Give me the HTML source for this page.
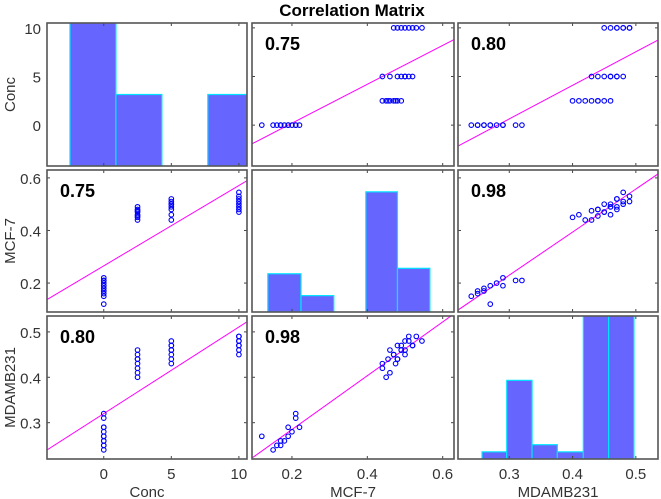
<!DOCTYPE html>
<html><head><meta charset="utf-8"><style>
body{margin:0;background:#fff;}
svg{display:block;font-family:"Liberation Sans",sans-serif;}
</style></head><body>
<svg id="chart" width="661" height="499" viewBox="0 0 661 499" xmlns="http://www.w3.org/2000/svg">
<text x="352" y="16" text-anchor="middle" font-size="17" font-weight="bold" fill="#000">Correlation Matrix</text>
</svg>
<script>
const varNames = ["Conc", "MCF-7", "MDAMB231"];
const concVals = [0,0,0,0,0,0,0,0,0,0,0,0, 2.5,2.5,2.5,2.5,2.5,2.5,2.5,2.5, 5,5,5,5,5,5,5,5, 10,10,10,10,10,10,10,10];
const mcfVals = [0.12,0.15,0.16,0.17,0.18,0.19,0.20,0.21,0.22,0.21,0.19,0.17, 0.44,0.45,0.455,0.46,0.47,0.475,0.48,0.49, 0.44,0.46,0.48,0.49,0.50,0.51,0.52,0.50, 0.47,0.48,0.49,0.50,0.51,0.52,0.53,0.545];
const mdaVals = [0.27,0.24,0.25,0.26,0.26,0.29,0.28,0.31,0.29,0.32,0.27,0.25, 0.42,0.40,0.44,0.41,0.45,0.43,0.44,0.46, 0.43,0.46,0.44,0.47,0.45,0.48,0.47,0.46, 0.45,0.47,0.46,0.48,0.49,0.47,0.49,0.48];
const corrLabels = [["", "0.75", "0.80"], ["0.75", "", "0.98"], ["0.80", "0.98", ""]];
const concTicks = [0, 5, 10];
const mcfTicks = [0.2, 0.4, 0.6];
const mdaTicks = [0.3, 0.4, 0.5];
const concHistEdges = [-2.5, 0.9, 4.3, 7.7, 11.1];
const concHistCounts = [12, 5, 0, 5];
const mcfHistEdges = [0.136, 0.224, 0.311, 0.396, 0.48, 0.566];
const mcfHistCounts = [7, 3, 0, 22, 8];
const mdaHistEdges = [0.257, 0.296, 0.336, 0.376, 0.417, 0.457, 0.497];
const mdaHistCounts = [1, 11, 2, 1, 22, 22];

const NS = "http://www.w3.org/2000/svg";
const svg = document.getElementById("chart");
const data = [concVals, mcfVals, mdaVals];
const ticks = [concTicks, mcfTicks, mdaTicks];
const tickFmt = [v => String(v), v => v.toFixed(1), v => v.toFixed(1)];
const lims = [[-4.2, 10.6], [0.094, 0.63], [0.219, 0.535]];
const colX = [[47, 247], [252, 454], [458, 658]];
const rowY = [[23, 166], [170, 312], [316, 459]];
const ylimsRow = [[-4.2, 10.5], [0.09, 0.63], [0.22, 0.535]];
const hists = [[concHistEdges, concHistCounts, 10], [mcfHistEdges, mcfHistCounts, 26], [mdaHistEdges, mdaHistCounts, 20]];

function mk(tag, attrs, parent) {
  const e = document.createElementNS(NS, tag);
  for (const k in attrs) e.setAttribute(k, attrs[k]);
  (parent || svg).appendChild(e);
  return e;
}
function xScale(c, v) { const [a, b] = colX[c], [l, h] = lims[c]; return a + (v - l) / (h - l) * (b - a); }
function yScale(r, v) { const [a, b] = rowY[r], [l, h] = ylimsRow[r]; return b - (v - l) / (h - l) * (b - a); }

for (let r = 0; r < 3; r++) {
  for (let c = 0; c < 3; c++) {
    const g = mk("g", {});
    
    
    const [x0, x1] = colX[c], [y0, y1] = rowY[r];
    const cid = "clip" + r + c;
    const cp = mk("clipPath", { id: cid }, g);
    mk("rect", { x: x0, y: y0, width: x1 - x0, height: y1 - y0 }, cp);
    const inner = mk("g", { "clip-path": "url(#" + cid + ")" }, g);
    if (r === c) {
      const [edges, counts, ymax] = hists[c];
      for (let i = 0; i < counts.length; i++) {
        const bx0 = xScale(c, edges[i]), bx1 = xScale(c, edges[i + 1]);
        const h = counts[i] / ymax * (y1 - y0);
        const b = mk("rect", { x: bx0, y: y1 - h, width: bx1 - bx0, height: h, fill: "#6666ff", stroke: "#00e5ff", "stroke-width": 1.2 }, inner);
        
        
      }
    } else {
      const xs = data[c], ys = data[r];
      const n = xs.length;
      const mx = xs.reduce((a, b) => a + b) / n, my = ys.reduce((a, b) => a + b) / n;
      let sxy = 0, sxx = 0;
      for (let i = 0; i < n; i++) { sxy += (xs[i] - mx) * (ys[i] - my); sxx += (xs[i] - mx) ** 2; }
      const slope = sxy / sxx, icpt = my - slope * mx;
      const [l, h] = lims[c];
      const ln = mk("line", { x1: xScale(c, l), y1: yScale(r, icpt + slope * l), x2: xScale(c, h), y2: yScale(r, icpt + slope * h), stroke: "#ff00ff", "stroke-width": 1 }, inner);
      
      
      for (let i = 0; i < n; i++) {
        const p = mk("circle", { cx: xScale(c, xs[i]), cy: yScale(r, ys[i]), r: 2.3, fill: "none", stroke: "#0000ff", "stroke-width": 1.1 }, inner);
        
        
      }
      const t = mk("text", { x: x0 + 13, y: y0 + 27, "font-size": 18, "font-weight": "bold", fill: "#000" }, g);
      t.textContent = corrLabels[r][c];
      
      
    }
    ticks[c].forEach(v => {
      const x = xScale(c, v);
      mk("line", { x1: x, y1: y1, x2: x, y2: y1 - 3, stroke: "#444" }, g);
      mk("line", { x1: x, y1: y0, x2: x, y2: y0 + 3, stroke: "#444" }, g);
    });
    if (r !== c) ticks[r].forEach(v => {
      const y = yScale(r, v);
      mk("line", { x1: x0, y1: y, x2: x0 + 3, y2: y, stroke: "#444" }, g);
      mk("line", { x1: x1, y1: y, x2: x1 - 3, y2: y, stroke: "#444" }, g);
    });
    mk("rect", { x: x0, y: y0, width: x1 - x0, height: y1 - y0, fill: "none", stroke: "#555", "stroke-width": 1.6 }, g);
  }
}
for (let r = 0; r < 3; r++) {
  ticks[r].forEach(v => {
    const t = mk("text", { x: 41, y: yScale(r, v) + 6, "text-anchor": "end", "font-size": 15, fill: "#333" });
    t.textContent = tickFmt[r](v);
    
    
  });
  const cy = (rowY[r][0] + rowY[r][1]) / 2;
  const t = mk("text", { x: 0, y: 0, transform: "translate(15," + cy + ") rotate(-90)", "text-anchor": "middle", "font-size": 15, fill: "#333" });
  t.textContent = varNames[r];
  
  
}
for (let c = 0; c < 3; c++) {
  ticks[c].forEach(v => {
    const t = mk("text", { x: xScale(c, v), y: 479, "text-anchor": "middle", "font-size": 15, fill: "#333" });
    t.textContent = tickFmt[c](v);
    
    
  });
  const t = mk("text", { x: (colX[c][0] + colX[c][1]) / 2, y: 497, "text-anchor": "middle", "font-size": 15, fill: "#333" });
  t.textContent = varNames[c];
  
  
}
</script>
</body></html>
